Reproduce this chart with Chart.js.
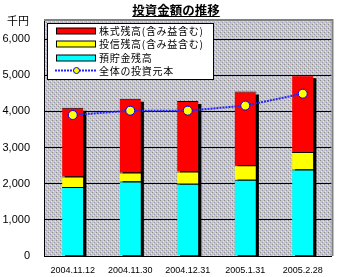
<!DOCTYPE html>
<html>
<head>
<meta charset="utf-8">
<script src="https://cdn.jsdelivr.net/npm/chart.js@4"></script>
<style>
  body { margin: 0; background: #fff; }
  #wrap { width: 337px; height: 277px; }
</style>
</head>
<body>
<div id="wrap"><canvas id="investChart" width="337" height="277"></canvas></div>
<script>
// データ
const dates = ['2004.11.12', '2004.11.30', '2004.12.31', '2005.1.31', '2005.2.28'];
const savings = [1910, 2060, 2000, 2110, 2390];      // 預貯金残高
const trusts = [290, 250, 340, 400, 490];            // 投信残高
const stocks = [1900, 2040, 1950, 2040, 2120];       // 株式残高
const principal = [3900, 4020, 4020, 4160, 4490];    // 全体の投資元本
const yTicks = [0, 1000, 2000, 3000, 4000, 5000, 6000];

const titleText = '投資金額の推移';
const unitText = '千円';
const jpFont = '"Noto Sans CJK JP", sans-serif';

// 背景の点描パターン
function makePattern(ctx) {
    const c = document.createElement('canvas');
    c.width = 4; c.height = 4;
    const p = c.getContext('2d');
    p.fillStyle = '#c6c6c6';
    p.fillRect(0, 0, 4, 4);
    p.fillStyle = '#8c8c8c';
    p.fillRect(0, 0, 1, 1);
    p.fillStyle = '#9a9ab8';
    p.fillRect(2, 2, 1, 1);
    p.fillStyle = '#e4e4e4';
    p.fillRect(1, 3, 1, 1);
    p.fillRect(3, 1, 1, 1);
    return ctx.createPattern(c, 'repeat');
}

// プロット領域の背景・枠・棒の影
const backdrop = {
    id: 'backdrop',
    beforeDatasetsDraw(chart) {
        const { ctx, chartArea: a } = chart;
        ctx.save();
        // gray frame top/right
        ctx.strokeStyle = '#808080';
        ctx.lineWidth = 2;
        ctx.beginPath();
        ctx.moveTo(a.left, a.top - 1);
        ctx.lineTo(a.right + 1, a.top - 1);
        ctx.lineTo(a.right + 1, a.bottom);
        ctx.stroke();
        // shadows of the stacked bars
        const topMeta = chart.getDatasetMeta(2);
        const base = chart.scales.y.getPixelForValue(0);
        ctx.fillStyle = '#000';
        topMeta.data.forEach(bar => {
            const { x, y, width } = bar.getProps(['x', 'y', 'width'], true);
            ctx.fillRect(x - width / 2 + 3, y + 3, width, base - y - 3);
        });
        ctx.restore();
    },
    beforeDraw(chart) {
        const { ctx, chartArea: a } = chart;
        ctx.save();
        ctx.fillStyle = makePattern(ctx);
        ctx.fillRect(a.left, a.top, a.right - a.left, a.bottom - a.top);
        ctx.restore();
    }
};

// タイトル・単位・凡例
const decorations = {
    id: 'decorations',
    afterDraw(chart) {
        const { ctx, chartArea: a } = chart;
        ctx.save();

        // title (underlined)
        ctx.font = 'bold 12.5px ' + jpFont;
        ctx.fillStyle = '#000';
        ctx.textAlign = 'center';
        ctx.textBaseline = 'alphabetic';
        const cx = 176;
        ctx.fillText(titleText, cx, 15);
        const tw = ctx.measureText(titleText).width;
        ctx.fillRect(cx - tw / 2, 16, tw, 1);

        // unit
        ctx.font = '11px ' + jpFont;
        ctx.textAlign = 'left';
        ctx.textBaseline = 'middle';
        ctx.fillText(unitText, 7, 21);

        // legend box
        const lx = a.left + 3.5, ly = a.top + 2.5, lw = 166, lh = 56;
        ctx.fillStyle = '#fff';
        ctx.fillRect(lx, ly, lw, lh);
        ctx.strokeStyle = '#000';
        ctx.lineWidth = 1;
        ctx.strokeRect(lx, ly, lw, lh);

        const ds = chart.data.datasets;
        const rows = [ds[2], ds[1], ds[0], ds[3]];
        const rowY = [31, 44, 58, 70.5];
        ctx.font = '10px ' + jpFont;
        ctx.letterSpacing = '0.7px';
        rows.forEach((d, i) => {
            const y = rowY[i];
            if (d.type === 'line') {
                ctx.strokeStyle = d.borderColor;
                ctx.lineWidth = 2;
                ctx.setLineDash(d.borderDash);
                ctx.beginPath();
                ctx.moveTo(55, y);
                ctx.lineTo(97, y);
                ctx.stroke();
                ctx.setLineDash([]);
                ctx.fillStyle = d.pointBackgroundColor;
                ctx.strokeStyle = d.pointBorderColor;
                ctx.lineWidth = 1;
                ctx.beginPath();
                ctx.arc(76.5, y, 3, 0, Math.PI * 2);
                ctx.fill();
                ctx.stroke();
            } else {
                ctx.fillStyle = d.backgroundColor;
                ctx.fillRect(56.5, y - 3, 39, 6);
                ctx.strokeStyle = '#000';
                ctx.lineWidth = 1;
                ctx.strokeRect(56.5, y - 3, 39, 6);
            }
            ctx.fillStyle = '#000';
            ctx.fillText(d.label, 99, y + 0.5);
        });
        ctx.restore();
    }
};

const barBorder = { top: 1, right: 0, bottom: 0, left: 0 };

const ctx = document.getElementById('investChart').getContext('2d');
const investChart = new Chart(ctx, {
    data: {
        labels: dates,
        datasets: [
            {
                type: 'bar', label: '預貯金残高', data: savings, stack: 'bal',
                backgroundColor: '#00ffff', borderColor: '#000', borderWidth: barBorder, order: 1
            },
            {
                type: 'bar', label: '投信残高(含み益含む)', data: trusts, stack: 'bal',
                backgroundColor: '#ffff00', borderColor: '#000', borderWidth: barBorder, order: 1
            },
            {
                type: 'bar', label: '株式残高(含み益含む)', data: stocks, stack: 'bal',
                backgroundColor: '#ff0000', borderColor: '#000', borderWidth: barBorder, order: 1
            },
            {
                type: 'line', label: '全体の投資元本', data: principal, stack: 'principal',
                borderColor: '#2424ff', borderWidth: 2, borderDash: [2, 1],
                pointBackgroundColor: '#ffff00', pointBorderColor: '#0000ff',
                pointBorderWidth: 1, pointRadius: 4.5, tension: 0, order: 0
            }
        ]
    },
    options: {
        responsive: false,
        animation: false,
        devicePixelRatio: 1,
        layout: { padding: { top: 21, right: 2, left: 0, bottom: 0 } },
        plugins: {
            legend: { display: false },
            title: { display: false },
            tooltip: { enabled: false }
        },
        datasets: {
            bar: { categoryPercentage: 1, barPercentage: 0.37 }
        },
        scales: {
            x: {
                stacked: true,
                grid: { display: false, drawTicks: false },
                border: { color: '#000', width: 1 },
                ticks: {
                    color: '#000',
                    padding: 9,
                    maxRotation: 0,
                    font: { family: '"Liberation Sans", Arial, sans-serif', size: 9 }
                },
                afterFit(scale) { scale.height = 21; }
            },
            y: {
                stacked: true,
                min: 0,
                max: 6500,
                afterBuildTicks(scale) { scale.ticks = yTicks.map(v => ({ value: v })); },
                grid: { color: '#000', drawTicks: false },
                border: { color: '#000', width: 1 },
                ticks: {
                    color: '#000',
                    padding: 14,
                    font: { family: '"Liberation Sans", Arial, sans-serif', size: 11 },
                    callback: v => v.toLocaleString('en-US')
                },
                afterFit(scale) { scale.width = 44; }
            }
        }
    },
    plugins: [backdrop, decorations]
});
</script>
</body>
</html>
